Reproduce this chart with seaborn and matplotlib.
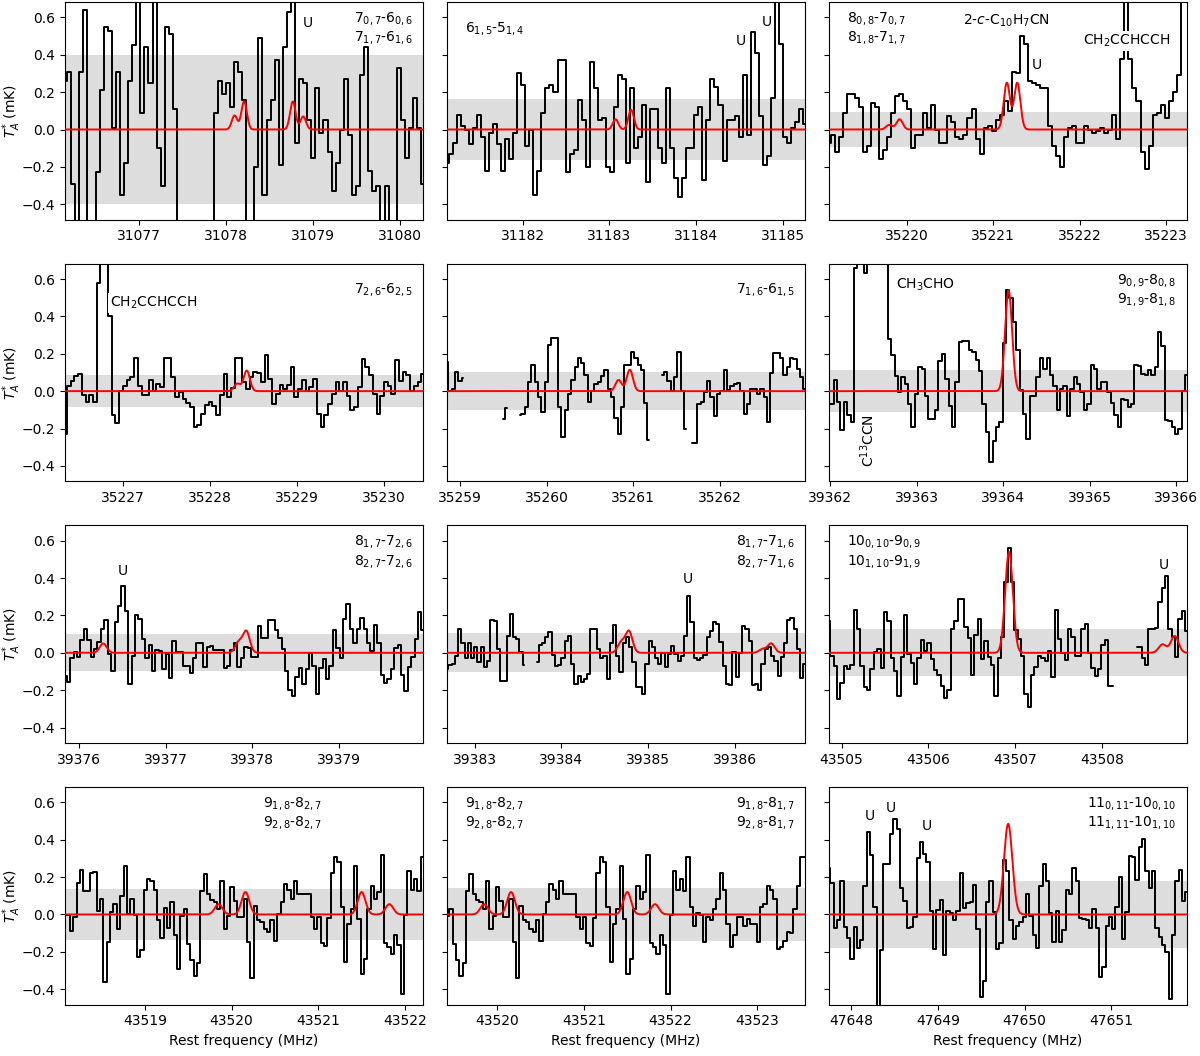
import numpy as np
import pandas as pd
import matplotlib
matplotlib.use("Agg")
import matplotlib.pyplot as plt
import seaborn as sns
from matplotlib.ticker import MultipleLocator, FormatStrFormatter

nan = np.nan

# ------------------------------------------------------------------ data
# observed spectra (T_A* in mK), channels spread uniformly over each range
spec_31078 = [0.26, 0.31, -0.29, -0.55, 0.31, 0.64, -0.55, -0.55, -0.23, 0.21, 0.55, 0.53, 0.01, 0.31, -0.35,
              -0.18, 0.26, 0.45, 0.75, 0.09, 0.44, 0.25, 0.75, -0.10, -0.30, 0.55, 0.51, 0.11, -0.6, -0.6, -0.6,
              -0.6, -0.6, -0.6, -0.6, -0.6, -0.6, 0.09, 0.26, 0.19, 0.25, 0.12, 0.36, 0.31, 0.16, -0.55, -0.55,
              -0.20, 0.49, -0.35, 0.05, 0.16, 0.37, -0.19, 0.44, 0.63, 0.75, -0.07, 0.27, 0.25, 0.05, -0.15, 0.22,
              -0.02, 0.05, -0.12, -0.33, -0.18, 0.0, 0.27, -0.03, -0.35, -0.30, 0.29, 0.44, -0.22, -0.33, -0.30,
              -0.55, -0.30, -0.55, -0.55, 0.33, 0.05, -0.15, 0.01, 0.17, 0.01, -0.29]
spec_31183 = [-0.18, -0.13, -0.07, 0.08, 0.02, 0.0, -0.08, 0.01, 0.08, -0.04, -0.22, -0.02, 0.03, -0.08, -0.22,
              -0.05, -0.16, -0.02, 0.30, 0.24, -0.09, 0.0, -0.35, -0.22, 0.09, 0.22, 0.24, 0.20, 0.37, 0.37,
              -0.23, -0.13, -0.11, 0.16, 0.05, -0.20, 0.36, 0.22, 0.05, 0.06, -0.20, -0.23, 0.12, 0.29, 0.27,
              -0.18, 0.22, -0.10, -0.04, 0.13, -0.28, 0.11, 0.11, -0.10, -0.18, 0.22, -0.10, -0.26, -0.36, -0.26,
              -0.10, -0.10, 0.08, 0.12, -0.27, 0.05, 0.27, 0.23, 0.13, -0.17, 0.05, 0.05, 0.07, -0.04, 0.29,
              -0.03, 0.52, 0.41, 0.07, -0.19, -0.14, 0.17, 0.75, 0.46, -0.04, -0.07, 0.01, 0.04, 0.11, 0.03]
spec_35221 = [-0.07, -0.03, -0.12, -0.04, 0.09, 0.19, 0.19, 0.17, 0.12, -0.12, -0.09, 0.14, 0.12, -0.16, -0.11,
              -0.04, 0.09, 0.18, 0.19, 0.15, 0.11, -0.10, -0.03, -0.03, 0.09, 0.01, 0.13, 0.0, -0.07, -0.07,
              0.07, 0.04, -0.04, -0.05, -0.03, 0.06, 0.11, -0.05, -0.13, 0.01, 0.02, -0.01, 0.05, 0.08, 0.15,
              0.10, 0.31, 0.30, 0.50, 0.46, 0.26, 0.25, 0.24, 0.22, 0.22, 0.02, -0.09, -0.14, -0.20, -0.04,
              0.01, 0.02, -0.07, -0.07, 0.02, 0.0, -0.02, -0.01, 0.01, -0.02, 0.0, 0.08, -0.05, 0.38, 0.85,
              0.38, 0.22, 0.15, -0.12, -0.21, -0.09, 0.08, 0.09, 0.13, 0.06, 0.15, 0.20, 0.29, 0.85, 0.85]
spec_35228 = [-0.23, 0.03, 0.055, 0.08, 0.09, -0.02, -0.06, -0.02, -0.06, 0.58, 0.85, 0.85, 0.40, -0.13, -0.17,
              0.0, 0.03, 0.06, 0.075, 0.18, 0.025, -0.02, -0.02, 0.06, 0.0, 0.04, 0.02, 0.18, 0.18, 0.075,
              -0.03, -0.005, -0.04, -0.065, -0.085, -0.19, -0.18, -0.12, -0.075, -0.06, -0.08, -0.125, -0.02,
              0.09, -0.03, 0.015, 0.18, 0.18, 0.05, 0.01, 0.075, 0.10, 0.095, 0.05, 0.195, 0.065, -0.07, -0.015,
              0.035, 0.01, 0.035, 0.13, -0.03, 0.01, 0.06, 0.0, 0.02, 0.065, -0.12, -0.19, -0.13, -0.07, -0.015,
              0.05, 0.0, 0.05, -0.025, -0.10, -0.085, 0.02, 0.17, 0.13, 0.085, -0.015, -0.12, -0.025, 0.05,
              0.025, -0.015, 0.165, 0.055, 0.10, 0.085, 0.0, 0.03, 0.05, 0.09]
spec_35261 = [0.155, 0.0, 0.01, 0.105, 0.055, 0.07,
              nan, nan, nan, nan, nan, nan, nan, nan, nan, nan, nan,
              -0.15, -0.09,
              nan, nan, nan,
              -0.13, -0.12, -0.085, 0.05, 0.14, 0.05, -0.03, -0.11, 0.05, 0.245, 0.285, 0.285, -0.085, -0.245,
              -0.10, -0.015, 0.06, 0.13, 0.18, 0.15, 0.085, -0.06, 0.0, 0.04, 0.05, 0.08, 0.115, 0.01, -0.03,
              -0.145, -0.23, -0.085, 0.14, 0.14, 0.21, 0.18, 0.14, 0.115, -0.065, -0.26,
              nan, nan, nan,
              0.085, 0.10, 0.055, 0.0, 0.075, 0.21, 0.0, -0.2,
              nan,
              -0.28, -0.28, -0.07, -0.06, -0.005, 0.055, -0.03, -0.135, -0.015, 0.0, 0.115, 0.005, 0.025, 0.04,
              0.045, 0.0, -0.12, -0.07, 0.01, 0.01, -0.015, 0.01, -0.03, -0.165, 0.095, 0.205, 0.205, 0.175,
              0.085, 0.13, 0.175, 0.17, 0.12, 0.075, 0.01]
spec_39364 = [-0.07, -0.07, 0.06, -0.06, -0.21, -0.06, -0.13, -0.165, 0.66, 0.75, 0.75, 0.63, 0.75, 0.75, 0.75,
              0.75, 0.75, 0.75, 0.28, 0.195, 0.08, -0.005, 0.075, 0.04, -0.07, -0.19, -0.015, 0.13, 0.12, -0.025,
              -0.15, -0.15, -0.10, 0.16, 0.2, 0.065, -0.08, -0.19, 0.05, 0.265, 0.27, 0.27, 0.22, 0.21, 0.165,
              0.11, -0.07, -0.22, -0.38, -0.265, -0.19, -0.165, 0.26, 0.54, 0.50, 0.37, 0.22, 0.005, -0.12,
              -0.255, -0.025, -0.025, 0.075, 0.18, 0.12, 0.175, 0.085, 0.03, -0.10, 0.01, 0.03, -0.135, 0.01,
              0.075, 0.04, -0.005, -0.10, -0.07, 0.14, 0.12, 0.01, 0.05, 0.05, -0.005, -0.065, -0.13, -0.19,
              -0.04, -0.05, -0.085, -0.07, 0.14, 0.135, 0.09, 0.085, 0.115, 0.085, 0.13, 0.315, 0.24, -0.155,
              -0.16, -0.19, -0.23, -0.205, 0.0, 0.085]
spec_39377 = [-0.125, -0.155, -0.03, 0.005, -0.025, 0.07, 0.13, 0.07, -0.025, 0.02, 0.06, 0.13, 0.175, -0.005,
              -0.10, 0.165, 0.25, 0.355, 0.225, -0.165, -0.015, 0.205, 0.18, 0.075, -0.03, 0.04, -0.10, 0.015,
              0.01, -0.085, -0.005, -0.135, 0.065, 0.005, 0.005, -0.07, -0.07, -0.11, -0.03, 0.055, 0.05, -0.075,
              0.03, 0.035, 0.015, 0.015, 0.015, -0.08, -0.07, 0.015, 0.055, -0.075, -0.03, 0.03, 0.025, -0.025,
              -0.025, 0.145, 0.08, 0.08, 0.175, 0.175, 0.12, 0.08, 0.02, -0.095, -0.20, -0.23, -0.13, -0.08,
              -0.165, -0.085, 0.0, -0.07, -0.22, -0.08, -0.035, -0.14, -0.07, 0.12, 0.025, -0.03, 0.18, 0.26,
              0.13, 0.055, 0.13, 0.185, 0.13, 0.055, 0.01, 0.15, 0.05, -0.12, -0.16, -0.14, -0.085, 0.025, 0.04,
              -0.12, -0.205, -0.075, -0.02, 0.075, 0.22, 0.12]
spec_39385 = [-0.085, -0.065, -0.06, -0.015, 0.13, 0.05, -0.03, 0.05, -0.03, 0.03, -0.05, 0.03, -0.075, -0.045,
              0.175, 0.17, 0.02, -0.15, -0.15, 0.09, 0.21, 0.085, 0.075, 0.005, -0.065, nan, nan, nan, -0.05,
              0.04, 0.05, 0.085, 0.11, -0.01, -0.07, -0.065, -0.03, 0.065, 0.09, -0.06, -0.165, -0.125, -0.155,
              -0.14, -0.115, 0.13, 0.13, 0.02, -0.03, -0.015, -0.14, 0.055, 0.15, -0.015, -0.105, 0.055, 0.085,
              0.03, -0.05, -0.185, -0.185, -0.22, -0.06, 0.065, 0.03, -0.03, -0.06, 0.0, -0.075, -0.005, 0.035,
              -0.005, -0.045, -0.015, 0.09, 0.305, 0.165, -0.03, -0.04, -0.03, -0.01, 0.085, 0.115, 0.165, 0.155,
              0.06, -0.07, -0.165, -0.175, 0.005, -0.13, 0.0, 0.145, 0.13, 0.065, -0.175, -0.165, -0.20, -0.06,
              0.02, 0.03, -0.015, -0.045, -0.125, -0.025, 0.05, 0.175, 0.185, 0.13, 0.02, -0.135, -0.06]
spec_43507 = [0.17, -0.015, -0.07, -0.245, -0.16, -0.07, -0.085, -0.065, 0.23, 0.13, -0.07, -0.185, -0.20,
              -0.085, 0.005, 0.02, -0.08, 0.22, 0.17, -0.03, -0.10, -0.23, -0.025, 0.20, -0.005, -0.055, -0.165,
              -0.03, 0.07, 0.01, 0.055, -0.035, -0.09, -0.12, -0.18, -0.24, -0.20, 0.13, 0.17, 0.29, 0.29, 0.14,
              0.08, -0.12, 0.095, 0.18, -0.035, 0.065, -0.025, -0.065, -0.23, -0.03, 0.085, 0.38, 0.56, 0.38,
              0.12, 0.075, -0.015, -0.22, -0.29, -0.12, -0.075, -0.015, -0.03, -0.045, 0.01, -0.13, 0.23, 0.075,
              0.0, -0.04, 0.13, 0.085, -0.015, -0.015, 0.13, 0.155, 0.0, -0.08, -0.125, -0.085, 0.04, 0.07,
              -0.18, -0.18, nan, nan, nan, nan, nan, nan, 0.03, 0.03, -0.03, -0.065, 0.13, 0.13, 0.135, 0.27,
              0.345, 0.41, 0.13, 0.085, -0.025, 0.18, 0.225, 0.115]
spec_43521 = [-0.005, -0.005, -0.09, -0.015, 0.17, 0.24, 0.125, 0.125, 0.22, 0.225, 0.02, 0.085, -0.36, -0.15,
              0.015, 0.055, -0.08, 0.10, 0.26, 0.0, 0.085, -0.005, -0.23, -0.19, 0.13, 0.19, 0.18, 0.13, -0.03,
              -0.125, 0.035, -0.07, 0.065, -0.11, -0.29, -0.01, 0.03, -0.16, -0.245, -0.33, -0.26, 0.125, 0.215,
              0.11, 0.075, 0.065, 0.03, 0.18, -0.08, -0.01, 0.145, 0.07, -0.015, -0.015, 0.085, -0.15, -0.34,
              0.045, -0.03, -0.04, -0.08, -0.095, -0.03, -0.14, 0.0, 0.065, 0.165, 0.13, 0.085, 0.18, 0.11, 0.11,
              0.11, 0.11, -0.015, -0.08, -0.015, -0.155, -0.17, -0.02, 0.22, 0.305, 0.28, 0.04, -0.255, -0.05,
              0.03, 0.26, -0.025, -0.32, -0.24, 0.03, 0.155, 0.085, 0.12, 0.32, -0.155, -0.175, -0.21, -0.11,
              -0.165, -0.425, -0.005, 0.23, 0.13, 0.19, 0.125, 0.305,
              0.04, -0.06, 0.01, -0.005, -0.15, -0.015, -0.03, 0.03, 0.085, 0.22, 0.13, -0.05, -0.175, -0.11,
              -0.015, -0.015, -0.06, -0.025, -0.05, -0.05, -0.15, 0.04, 0.055, 0.15, 0.13, 0.085, -0.185, -0.175,
              -0.14, -0.095, -0.10, 0.03, 0.15, 0.305, 0.305]
spec_47650 = [0.25, 0.17, -0.07, -0.03, 0.18, -0.065, -0.125, -0.24, -0.065, -0.18, -0.135, 0.15, 0.44, 0.32,
              0.04, -0.55, -0.19, 0.27, 0.27, 0.43, 0.51, 0.46, 0.14, 0.07, -0.07, -0.065, -0.015, 0.30, 0.39,
              0.325, 0.28, 0.02, -0.185, 0.025, 0.075, -0.215, 0.02, 0.01, -0.03, 0.02, 0.22, 0.035, 0.06, 0.065,
              0.16, -0.08, -0.44, -0.355, 0.065, 0.18, 0.015, -0.185, -0.155, 0.29, 0.23, -0.03, -0.13, -0.06,
              -0.04, -0.015, 0.11, -0.01, -0.11, -0.18, 0.155, 0.27, 0.18, 0.01, -0.15, 0.02, -0.15, -0.085, 0.13,
              0.11, 0.25, 0.18, -0.02, -0.025, -0.03, -0.07, 0.03, -0.075, -0.335, -0.28, -0.06, -0.015, -0.08,
              0.04, 0.2, -0.13, 0.015, 0.315, 0.31, 0.185, 0.36, 0.405, 0.23, 0.14, 0.235, -0.07, -0.12, -0.165,
              -0.20, -0.455, -0.11, 0.18, 0.24, 0.07, 0.12]

# frequency coverage of each stored spectrum (MHz)
spec_ranges = {
    "31078": (31076.15, 31080.27), "31183": (31181.12, 31185.26), "35221": (35219.10, 35223.24),
    "35228": (35226.33, 35230.45), "35261": (35258.85, 35262.98), "39364": (39361.98, 39366.12),
    "39377": (39375.84, 39379.97), "39385": (39382.68, 39386.81), "43507": (43504.85, 43508.98),
    "43521": (43518.08, 43523.55), "47650": (47647.74, 47651.87),
}
spectra = {"31078": spec_31078, "31183": spec_31183, "35221": spec_35221, "35228": spec_35228,
           "35261": spec_35261, "39364": spec_39364, "39377": spec_39377, "39385": spec_39385,
           "43507": spec_43507, "43521": spec_43521, "47650": spec_47650}

# model line components: rest frequency (MHz) and peak (mK)
model_31078_freq = [31078.10, 31078.21, 31078.77, 31078.89]
model_31078_peak = [0.075, 0.15, 0.15, 0.07]
model_31183_freq = [31183.07, 31183.25]
model_31183_peak = [0.055, 0.105]
model_35221_freq = [35219.80, 35219.92, 35221.16, 35221.28]
model_35221_peak = [0.025, 0.055, 0.25, 0.25]
model_35228_freq = [35228.31, 35228.42]
model_35228_peak = [0.04, 0.11]
model_35261_freq = [35260.83, 35260.96]
model_35261_peak = [0.06, 0.115]
model_39364_freq = [39364.06]
model_39364_peak = [0.54]
model_39377_freq = [39376.28, 39377.84, 39377.93]
model_39377_peak = [0.05, 0.055, 0.115]
model_39385_freq = [39384.69, 39384.78, 39386.32, 39386.42]
model_39385_peak = [0.055, 0.115, 0.02, 0.05]
model_43507_freq = [43506.93, 43508.70, 43508.84]
model_43507_peak = [0.54, 0.045, 0.09]
model_43521_freq = [43519.85, 43520.16, 43521.50, 43521.82]
model_43521_peak = [0.055, 0.12, 0.12, 0.055]
model_47650_freq = [47649.81]
model_47650_peak = [0.485]
model_fwhm_kms = 0.72

# panel-wise: spectrum key, frequency window, noise level, transition labels
panel_spec = ["31078", "31183", "35221", "35228", "35261", "39364",
              "39377", "39385", "43507", "43521", "43521", "47650"]
panel_xlim = [(31076.15, 31080.27), (31181.12, 31185.26), (35219.10, 35223.24),
              (35226.33, 35230.45), (35258.85, 35262.98), (39361.98, 39366.12),
              (39375.84, 39379.97), (39382.68, 39386.81), (43504.85, 43508.98),
              (43518.08, 43522.21), (43519.42, 43523.55), (47647.74, 47651.87)]
panel_rms = [0.40, 0.163, 0.093, 0.087, 0.10, 0.113, 0.10, 0.104, 0.126, 0.137, 0.142, 0.179]
panel_qn = [
    [(0.972, "right", "$7_{0,7}$-$6_{0,6}$\n$7_{1,7}$-$6_{1,6}$")],
    [(0.051, "left", "$6_{1,5}$-$5_{1,4}$")],
    [(0.051, "left", "$8_{0,8}$-$7_{0,7}$\n$8_{1,8}$-$7_{1,7}$")],
    [(0.972, "right", "$7_{2,6}$-$6_{2,5}$")],
    [(0.972, "right", "$7_{1,6}$-$6_{1,5}$")],
    [(0.972, "right", "$9_{0,9}$-$8_{0,8}$\n$9_{1,9}$-$8_{1,8}$")],
    [(0.972, "right", "$8_{1,7}$-$7_{2,6}$\n$8_{2,7}$-$7_{2,6}$")],
    [(0.972, "right", "$8_{1,7}$-$7_{1,6}$\n$8_{2,7}$-$7_{1,6}$")],
    [(0.051, "left", "$10_{0,10}$-$9_{0,9}$\n$10_{1,10}$-$9_{1,9}$")],
    [(0.552, "left", "$9_{1,8}$-$8_{2,7}$\n$9_{2,8}$-$8_{2,7}$")],
    [(0.051, "left", "$9_{1,8}$-$8_{2,7}$\n$9_{2,8}$-$8_{2,7}$"),
     (0.972, "right", "$9_{1,8}$-$8_{1,7}$\n$9_{2,8}$-$8_{1,7}$")],
    [(0.972, "right", "$11_{0,11}$-$10_{0,10}$\n$11_{1,11}$-$10_{1,10}$")],
]
# other species / unidentified features: (panel, freq, T_A*, text)
feature_labels = [
    (0, 31078.94, 0.57, "U"),
    (1, 31184.52, 0.473, "U"), (1, 31184.82, 0.575, "U"),
    (2, 35221.16, 0.58, "2-$c$-C$_{10}$H$_7$CN"), (2, 35221.51, 0.343, "U"),
    (5, 39363.10, 0.571, "CH$_3$CHO"),
    (6, 39376.51, 0.44, "U"),
    (7, 39385.46, 0.393, "U"),
    (8, 43508.71, 0.471, "U"),
    (11, 47648.21, 0.525, "U"), (11, 47648.46, 0.571, "U"), (11, 47648.87, 0.471, "U"),
]
boxed_labels = [(2, 0.711, 0.822, "CH$_2$CCHCCH"), (3, 0.126, 0.82, "CH$_2$CCHCCH")]
rotated_labels = [(5, 39362.43, -0.264, "C$^{13}$CCN")]

# ------------------------------------------------------------------ style
sns.set_style("ticks", rc={"axes.edgecolor": "black", "xtick.color": "black", "ytick.color": "black",
                           "text.color": "black", "axes.labelcolor": "black", "axes.linewidth": 1.0})
plt.rcParams["font.family"] = ["DejaVu Sans"]
plt.rcParams["font.size"] = 10
plt.rcParams["xtick.labelsize"] = 10
plt.rcParams["ytick.labelsize"] = 10

fig, axes = plt.subplots(4, 3, figsize=(12, 10.56), dpi=100, sharey=True)
fig.subplots_adjust(left=0.0542, right=0.989, top=0.998, bottom=0.0486, wspace=0.066, hspace=0.2024)

c_kms = 299792.458
models = {k: (globals()["model_%s_freq" % k], globals()["model_%s_peak" % k]) for k in spectra}

for i, ax in enumerate(axes.flat):
    key = panel_spec[i]
    x0, x1 = panel_xlim[i]
    rms = panel_rms[i]
    ax.axhspan(-rms, rms, color="#dddddd", lw=0, zorder=0)

    vals = np.asarray(spectra[key], float)
    f0, f1 = spec_ranges[key]
    freq = np.linspace(f0, f1, len(vals))
    seg = np.cumsum(np.isnan(vals))
    df = pd.DataFrame({"freq": freq, "ta": vals, "seg": seg}).dropna()
    df = df[(df.freq >= x0 - 0.05) & (df.freq <= x1 + 0.05)]
    sns.lineplot(data=df, x="freq", y="ta", units="seg", estimator=None, drawstyle="steps-mid",
                 color="black", lw=1.4, ax=ax, zorder=2)

    fx = np.linspace(x0, x1, 1200)
    mf, mp = models[key]
    model = np.zeros_like(fx)
    for c, p in zip(mf, mp):
        sig = c * model_fwhm_kms / c_kms / 2.3548
        model += p * np.exp(-0.5 * ((fx - c) / sig) ** 2)
    sns.lineplot(x=fx, y=model, color="red", lw=1.4, ax=ax, zorder=3)

    ax.set_xlim(x0, x1)
    ax.set_ylim(-0.483, 0.682)
    ax.xaxis.set_major_locator(MultipleLocator(1))
    ax.xaxis.set_major_formatter(FormatStrFormatter("%d"))
    ax.set_yticks([-0.4, -0.2, 0.0, 0.2, 0.4, 0.6])
    ax.set_xlabel("Rest frequency (MHz)" if i >= 9 else "")
    if i % 3 == 0:
        ax.set_ylabel("$T_A^{*}$ (mK)")
        ax.yaxis.set_label_coords(-0.118, 0.5)
    else:
        ax.set_ylabel("")
    for side in ["top", "right"]:
        ax.spines[side].set_visible(True)

    for xf, ha, txt in panel_qn[i]:
        ax.text(xf, 0.88, txt, transform=ax.transAxes, ha=ha, va="center", fontsize=10)

for pi, fx_, fy_, txt in feature_labels:
    axes.flat[pi].text(fx_, fy_, txt, ha="center", va="center", fontsize=10, zorder=5)
for pi, xf, yf, txt in boxed_labels:
    axes.flat[pi].text(xf, yf, txt, transform=axes.flat[pi].transAxes, ha="left", va="center", fontsize=10,
                       zorder=5, bbox=dict(facecolor="white", edgecolor="none", pad=1.5))
for pi, fx_, fy_, txt in rotated_labels:
    axes.flat[pi].text(fx_, fy_, txt, ha="center", va="center", rotation=90, fontsize=10, zorder=5)

fig.savefig("out.png", dpi=100)
